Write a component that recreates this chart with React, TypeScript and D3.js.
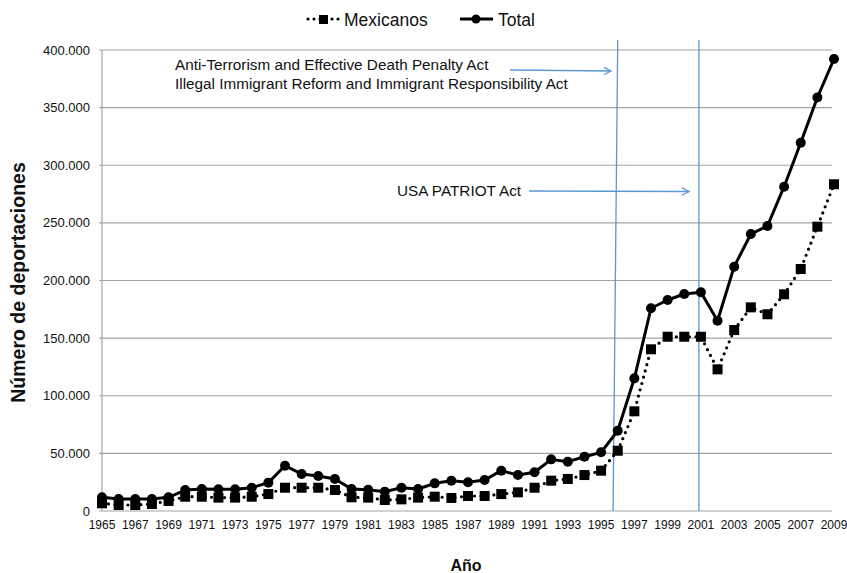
import React from "react";
import { scaleLinear, line, range, formatLocale } from "d3";

// Deportaciones por año (lectura del gráfico)
const years = range(1965, 2010);

const total = [
  11900, 10400, 10400, 10400, 11900, 18200, 19100, 18800, 18800, 20200,
  24600, 39300, 32100, 30400, 27800, 19100, 18500, 16800, 20200, 19100,
  24000, 26200, 24900, 26900, 35000, 31200, 33600, 44800, 42800, 47100,
  50900, 69600, 115100, 175900, 183100, 188300, 189800, 165100, 212000,
  240300, 247300, 281400, 319500, 358800, 392200,
];

const mexicanos = [
  6700, 5200, 5200, 6100, 8700, 12400, 12400, 11600, 11600, 12400,
  14700, 20200, 20200, 20200, 18200, 11900, 11600, 9500, 10100, 11600,
  12400, 11300, 13000, 13000, 14700, 16200, 20200, 26300, 27800, 31200,
  35000, 52300, 86500, 140300, 151200, 151200, 151200, 122900, 157000,
  176700, 170700, 188000, 210000, 246700, 283500,
];

const yTicks = [0, 50000, 100000, 150000, 200000, 250000, 300000, 350000, 400000];
const xTicks = range(1965, 2010, 2);

// leyes (año de la línea vertical)
const laws = [
  { top: 1996.0, bottom: 1995.72 },
  { top: 2000.88, bottom: 2000.88 },
];

const fmt = formatLocale({ decimal: ",", thousands: ".", grouping: [3], currency: ["", ""] }).format(",");

const W = 847;
const H = 573;
const margin = { top: 50, right: 13, bottom: 62, left: 102 };
const font = "'Liberation Sans', Arial, Helvetica, sans-serif";
const blue = "#5d97d1";

export default function App() {
  const x = scaleLinear().domain([1965, 2009]).range([margin.left, W - margin.right]);
  const y = scaleLinear().domain([0, 400000]).range([H - margin.bottom, margin.top]);

  const mk = (vals: number[]) =>
    line<number>()
      .x((_, i) => x(years[i]))
      .y((d) => y(d))(vals) as string;

  const gridRight = x(2009) - 2;

  return (
    <svg
      width={W}
      height={H}
      style={{ position: "absolute", left: 0, top: 0, background: "#fff" }}
      fontFamily={font}
    >
      <defs>
        <marker id="arrow" viewBox="0 0 10 10" refX="9" refY="5" markerWidth="9" markerHeight="9" orient="auto" markerUnits="userSpaceOnUse">
          <path d="M1,1 L9,5 L1,9" fill="none" stroke={blue} strokeWidth={1.4} />
        </marker>
      </defs>

      {/* grid + y ticks */}
      {yTicks.map((t) => (
        <g key={t}>
          <line x1={margin.left - 3} x2={gridRight} y1={y(t)} y2={y(t)} stroke="#a3a3a3" strokeWidth={1.2} />
          <text x={margin.left - 12} y={y(t)} dy="0.35em" textAnchor="end" fontSize={13} fill="#111">
            {fmt(t)}
          </text>
        </g>
      ))}
      <line x1={margin.left} x2={margin.left} y1={y(400000)} y2={y(0)} stroke="#a3a3a3" strokeWidth={1.2} />

      {/* x labels */}
      {xTicks.map((t) => (
        <text key={t} x={x(t)} y={y(0) + 18} textAnchor="middle" fontSize={12} fill="#111">
          {t}
        </text>
      ))}

      {/* vertical law lines */}
      {laws.map((l, i) => (
        <line key={i} x1={x(l.top)} x2={x(l.bottom)} y1={40} y2={y(0)} stroke={blue} strokeWidth={1.3} />
      ))}

      {/* annotations */}
      <text x={175} y={70} fontSize={15.3} fill="#111">Anti-Terrorism and Effective Death Penalty Act</text>
      <text x={175} y={89} fontSize={15.3} fill="#111">Illegal Immigrant Reform and Immigrant Responsibility Act</text>
      <line x1={510} x2={x(1995.6)} y1={70} y2={71} stroke={blue} strokeWidth={1.4} markerEnd="url(#arrow)" />
      <text x={397} y={196} fontSize={15.3} fill="#111">USA PATRIOT Act</text>
      <line x1={529} x2={x(2000.3)} y1={191} y2={191.5} stroke={blue} strokeWidth={1.4} markerEnd="url(#arrow)" />

      {/* Mexicanos */}
      <path d={mk(mexicanos)} fill="none" stroke="#000" strokeWidth={3.2} strokeDasharray="0 6.5" strokeLinecap="round" />
      {mexicanos.map((v, i) => (
        <rect key={i} x={x(years[i]) - 5} y={y(v) - 5} width={10} height={10} fill="#000" />
      ))}

      {/* Total */}
      <path d={mk(total)} fill="none" stroke="#000" strokeWidth={3} strokeLinejoin="round" />
      {total.map((v, i) => (
        <circle key={i} cx={x(years[i])} cy={y(v)} r={5} fill="#000" />
      ))}

      {/* legend */}
      <g>
        <line x1={308} x2={340} y1={19} y2={19} stroke="#000" strokeWidth={3.2} strokeDasharray="0 6" strokeLinecap="round" />
        <rect x={319} y={15} width={9} height={9} fill="#000" />
        <text x={344} y={25.5} fontSize={17.5} fill="#111">Mexicanos</text>
        <line x1={460} x2={493} y1={19} y2={19} stroke="#000" strokeWidth={3} />
        <circle cx={476} cy={19} r={4.5} fill="#000" />
        <text x={498} y={25.5} fontSize={17.5} fill="#111">Total</text>
      </g>

      {/* axis titles */}
      <text
        transform={`translate(25, ${(y(0) + y(400000)) / 2 + 2}) rotate(-90)`}
        textAnchor="middle"
        fontSize={19.5}
        fontWeight="bold"
        fill="#111"
      >
        Número de deportaciones
      </text>
      <text x={466} y={571} textAnchor="middle" fontSize={16} fontWeight="bold" fill="#111">
        Año
      </text>
    </svg>
  );
}
